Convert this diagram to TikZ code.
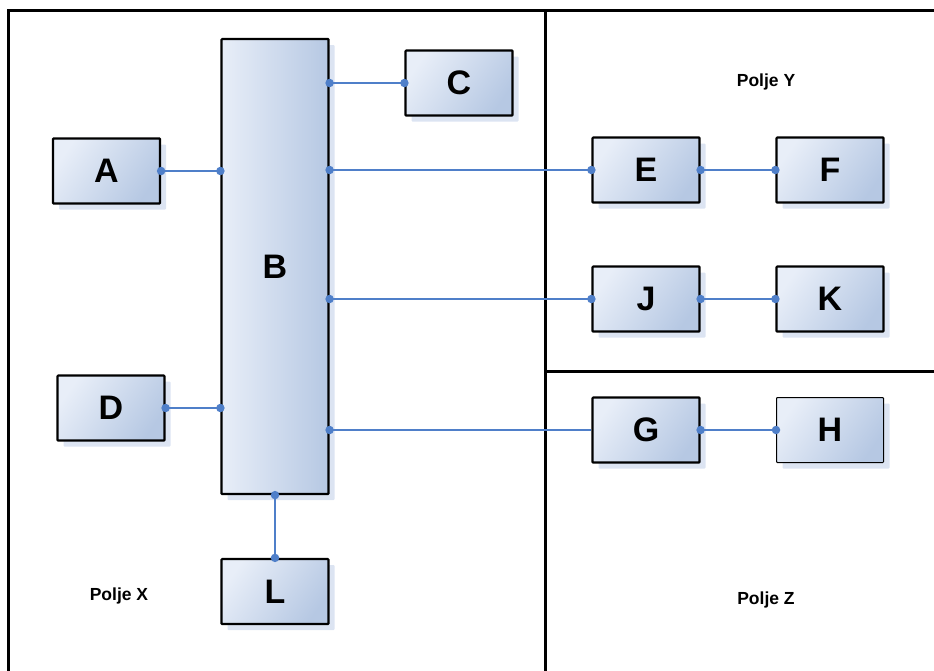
\documentclass[tikz,border=0pt]{standalone}
\usepackage{fontspec}
\setmainfont{Liberation Sans}
\definecolor{boxlight}{HTML}{E8EEF8}
\definecolor{boxdark}{HTML}{B6C8E3}
\definecolor{shadowc}{HTML}{DCE4F2}
\definecolor{linkc}{HTML}{4F7FC9}
\usetikzlibrary{shadows}
\pgfdeclarehorizontalshading{boxshade}{100bp}{color(0bp)=(boxlight); color(25bp)=(boxlight); color(75bp)=(boxdark); color(100bp)=(boxdark)}
\tikzset{
  blk/.style={draw=black, line width=2.2pt, rounded corners=0.8pt, minimum width=107pt, minimum height=65pt,
    inner sep=0pt, font=\fontsize{34}{34}\selectfont\bfseries,
    shade, shading=boxshade, shading angle=-35,
    general shadow={fill=shadowc, shadow xshift=6pt, shadow yshift=-6pt}},
  thinblk/.style={blk, line width=1pt},
  tallblk/.style={blk, minimum height=455pt, shading angle=0},
  link/.style={draw=linkc, line width=2pt},
  dot/.style={circle, fill=linkc, inner sep=0pt, minimum size=8.5pt},
  frame/.style={draw=black, line width=3pt},
  field/.style={font=\fontsize{17.5}{17.5}\selectfont\bfseries}
}
\begin{document}
\begin{tikzpicture}[x=1pt, y=-1pt]
\useasboundingbox (0,0) rectangle (934,670);
% frame
\draw[frame] (8,680) -- (8,10) -- (945,10);
\draw[frame] (545,10) -- (545,680);
\draw[frame] (545,371) -- (945,371);
% boxes
\node[tallblk] (B) at (275,266.5) {B};
\node[blk] (A) at (106.5,171) {A};
\node[blk] (C) at (459,83) {C};
\node[blk] (D) at (111,408) {D};
\node[blk] (E) at (646,170) {E};
\node[blk] (F) at (830,170) {F};
\node[blk] (J) at (646,299) {J};
\node[blk] (K) at (830,299) {K};
\node[blk] (G) at (646,430) {G};
\node[thinblk] (H) at (830,430) {H};
\node[blk] (L) at (275,591.5) {L};
% labels
\node[field] (px) at (119,596) {Polje X};
\node[field] (py) at (766,82) {Polje Y};
\node[field] (pz) at (766,600) {Polje Z};
% connection points on B
\coordinate (bA) at (B.west |- A.east);
\coordinate (bD) at (B.west |- D.east);
\coordinate (bC) at (B.east |- C.west);
\coordinate (bE) at (B.east |- E.west);
\coordinate (bJ) at (B.east |- J.west);
\coordinate (bG) at (B.east |- G.west);
\coordinate (bL) at (B.south);
% links
\draw[link] (A.east) -- (bA);
\draw[link] (D.east) -- (bD);
\draw[link] (bC) -- (C.west);
\draw[link] (bE) -- (E.west);
\draw[link] (bJ) -- (J.west);
\draw[link] (bG) -- (G.west);
\draw[link] (bL) -- (L.north);
\draw[link] (E.east) -- (F.west);
\draw[link] (J.east) -- (K.west);
\draw[link] (G.east) -- (H.west);
% dots
\foreach \p in {A.east, bA, D.east, bD, bC, C.west, bE, E.west, bJ, J.west, bG, bL, L.north, E.east, F.west, J.east, K.west, G.east, H.west}
  \node[dot] at (\p) {};
\end{tikzpicture}
\end{document}
